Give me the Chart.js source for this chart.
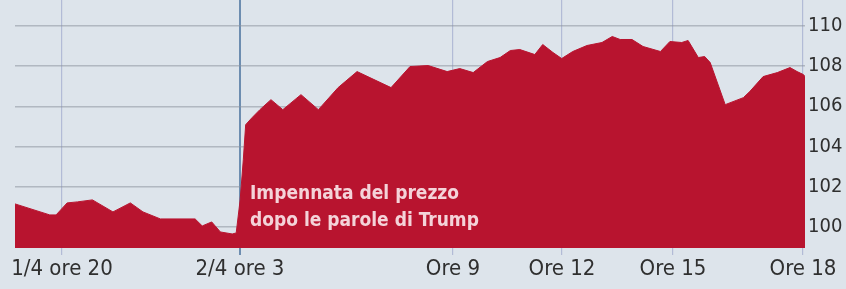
<!DOCTYPE html>
<html>
<head>
<meta charset="utf-8">
<script src="https://cdn.jsdelivr.net/npm/chart.js@4/dist/chart.umd.min.js"></script>
<style>
  html, body { margin: 0; padding: 0; background: #dde4eb; }
  #wrap { width: 846px; height: 289px; position: relative; }
</style>
</head>
<body>
<div id="wrap"><canvas id="grafico"></canvas></div>
<script>
// posizione lungo la sessione (0-100) e prezzo
const posizioni = [0, 4.4, 5.2, 6.6, 7.9, 9.8, 12.4, 14.6, 16.2, 18.4, 22.8, 23.7, 24.9, 26.0, 27.5, 28.0,
  28.5, 28.9, 29.2, 30.0, 31.0, 32.4, 33.9, 36.2, 38.4, 40.9, 43.3, 47.6, 50.0, 52.3, 54.7, 56.3, 58.0,
  59.8, 61.4, 62.7, 63.9, 65.8, 66.8, 68.1, 69.2, 70.6, 72.4, 74.3, 75.6, 76.6, 78.1, 79.5, 81.7, 82.9,
  84.4, 85.2, 86.5, 87.3, 88.0, 89.9, 92.2, 93.0, 94.7, 96.5, 98.1, 99.0, 99.8, 100];
const prezzi = [101.13, 100.58, 100.58, 101.18, 101.23, 101.33, 100.73, 101.18, 100.73, 100.38, 100.38, 100.03, 100.23, 99.73, 99.63, 99.68,
  101.33, 103.33, 105.08, 105.43, 105.83, 106.33, 105.83, 106.58, 105.83, 106.93, 107.73, 106.93, 107.98, 108.03, 107.73, 107.88, 107.68,
  108.23, 108.43, 108.78, 108.83, 108.58, 109.08, 108.68, 108.38, 108.73, 109.03, 109.18, 109.48, 109.33, 109.33, 108.98, 108.73, 109.23,
  109.18, 109.28, 108.43, 108.48, 108.18, 106.08, 106.43, 106.73, 107.48, 107.68, 107.93, 107.73, 107.58, 107.48];

const tickPosizioni = [5.95, 28.48, 55.44, 69.24, 83.29, 99.75];
const tickEtichette = ['1/4 ore 20', '2/4 ore 3', 'Ore 9', 'Ore 12', 'Ore 15', 'Ore 18'];
const tickPrezzi = [100, 102, 104, 106, 108, 110];
const nota = ['Impennata del prezzo', 'dopo le parole di Trump'];

const FONT = '"Liberation Sans Narrow", "DejaVu Sans Condensed", "Roboto", sans-serif';

// testo dentro l'area rossa
const notaPlugin = {
  id: 'nota',
  afterDatasetsDraw(chart) {
    const ctx = chart.ctx;
    const x = chart.scales.x.getPixelForValue(tickPosizioni[1]) + 10;
    const y = chart.scales.y.getPixelForValue(101.6);
    ctx.save();
    ctx.fillStyle = '#f4d3d9';
    ctx.font = 'bold 19px ' + FONT;
    ctx.textBaseline = 'middle';
    ctx.fillText(nota[0], x, y);
    ctx.fillText(nota[1], x, y + 27);
    ctx.restore();
  }
};

const ctx = document.getElementById('grafico').getContext('2d');
new Chart(ctx, {
  type: 'line',
  data: {
    datasets: [{
      data: posizioni.map((p, i) => ({ x: p, y: prezzi[i] })),
      borderColor: '#b8142f',
      borderWidth: 1,
      backgroundColor: '#b8142f',
      fill: 'start',
      pointRadius: 0,
      tension: 0
    }]
  },
  options: {
    responsive: true,
    maintainAspectRatio: false,
    animation: false,
    layout: { padding: { left: 15, top: 0, right: 0, bottom: 0 } },
    plugins: { legend: { display: false }, tooltip: { enabled: false } },
    scales: {
      x: {
        type: 'linear',
        min: 0,
        max: 100,
        z: 1,
        afterBuildTicks: s => { s.ticks = tickPosizioni.map(v => ({ value: v })); },
        afterFit: s => { s.height = 41; s.paddingLeft = 0; s.paddingRight = 0; },
        ticks: {
          autoSkip: false,
          maxRotation: 0,
          padding: 1,
          color: '#2f2f2f',
          font: { family: FONT, size: 22 },
          callback: (v, i) => tickEtichette[i]
        },
        grid: {
          color: c => c.index === 1 ? '#6d8db0' : 'rgba(150,160,200,0.6)',
          lineWidth: c => c.index === 1 ? 2 : 1.2,
          tickLength: 7
        },
        border: { display: false }
      },
      y: {
        position: 'right',
        min: 98.93,
        max: 111.3,
        z: 1,
        afterBuildTicks: s => { s.ticks = tickPrezzi.map(v => ({ value: v })); },
        afterFit: s => { s.width = 41; s.paddingTop = 0; s.paddingBottom = 0; },
        ticks: {
          padding: 3,
          color: '#2f2f2f',
          font: { family: FONT, size: 20 }
        },
        grid: {
          color: 'rgba(140,148,158,0.55)',
          lineWidth: 1.5,
          drawTicks: false
        },
        border: { display: false }
      }
    }
  },
  plugins: [notaPlugin]
});
</script>
</body>
</html>
